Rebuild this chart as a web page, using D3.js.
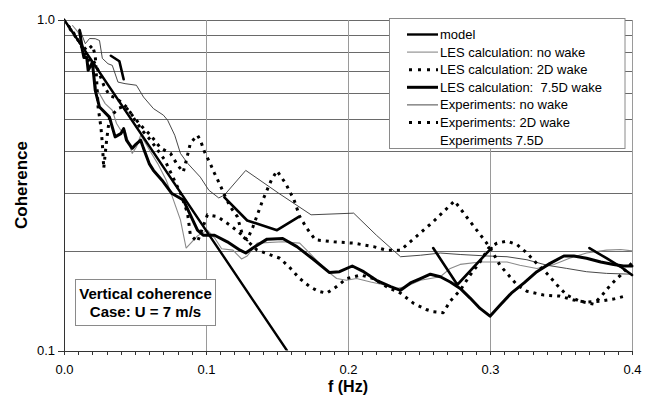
<!DOCTYPE html>
<html>
<head>
<meta charset="utf-8">
<script src="https://cdn.jsdelivr.net/npm/d3@7"></script>
<style>
  html, body { margin: 0; padding: 0; background: #fff; }
  svg { display: block; font-family: "Liberation Sans", Arial, sans-serif; }
</style>
</head>
<body>
<svg id="chart" width="658" height="399"></svg>
<script>
// ---- data: frequency f (Hz) and coherence per series ----
const modelF = [0, 0.157];
const modelC = [1.0, 0.1];

const lesNoWakeF = [0.006,0.010,0.015,0.020,0.022,0.023,0.029,0.034,0.037,0.040,0.043,0.045,0.048,0.051,0.054,0.057,0.061,0.066,0.072,0.075,0.082,0.086,0.094,0.101,0.106,0.111,0.119,0.125,0.129,0.136,0.154,0.166,0.173,0.180,0.186,0.192,0.199,0.206,0.216,0.225,0.234,0.241,0.251,0.265,0.272,0.279,0.293,0.300,0.312,0.321,0.333,0.345,0.356,0.368,0.382,0.392,0.400];
const lesNoWakeC = [0.959,0.914,0.806,0.727,0.655,0.618,0.557,0.532,0.485,0.463,0.463,0.432,0.394,0.412,0.447,0.426,0.398,0.367,0.327,0.302,0.248,0.204,0.222,0.231,0.219,0.203,0.201,0.189,0.193,0.211,0.213,0.211,0.197,0.183,0.173,0.165,0.163,0.165,0.161,0.158,0.154,0.156,0.163,0.167,0.177,0.182,0.185,0.185,0.185,0.181,0.177,0.182,0.190,0.197,0.201,0.202,0.200];

const les2DF = [0.004,0.010,0.016,0.020,0.022,0.023,0.024,0.026,0.027,0.028,0.030,0.032,0.038,0.043,0.048,0.054,0.061,0.068,0.075,0.080,0.084,0.087,0.089,0.094,0.096,0.099,0.103,0.106,0.110,0.113,0.117,0.122,0.126,0.136,0.152,0.159,0.166,0.173,0.179,0.185,0.192,0.199,0.209,0.218,0.227,0.237,0.246,0.255,0.260,0.267,0.272,0.279,0.286,0.293,0.299,0.305,0.312,0.319,0.326,0.333,0.340,0.347,0.354,0.363,0.373,0.379,0.385,0.392,0.400];
const les2DC = [0.940,0.864,0.806,0.835,0.779,0.655,0.544,0.473,0.422,0.355,0.432,0.503,0.539,0.547,0.514,0.479,0.447,0.409,0.394,0.363,0.346,0.389,0.423,0.447,0.432,0.398,0.367,0.343,0.316,0.295,0.272,0.254,0.221,0.201,0.190,0.178,0.165,0.156,0.151,0.149,0.156,0.165,0.169,0.165,0.156,0.149,0.139,0.133,0.131,0.130,0.141,0.152,0.169,0.185,0.204,0.211,0.214,0.209,0.197,0.183,0.171,0.158,0.147,0.141,0.138,0.147,0.158,0.169,0.184];

const les75F = [0.011,0.013,0.014,0.016,0.017,0.020,0.022,0.025,0.032,0.034,0.036,0.040,0.042,0.044,0.048,0.050,0.054,0.056,0.060,0.063,0.069,0.076,0.084,0.094,0.098,0.106,0.115,0.124,0.128,0.133,0.143,0.154,0.164,0.176,0.187,0.194,0.203,0.211,0.220,0.230,0.237,0.244,0.251,0.258,0.265,0.272,0.279,0.286,0.293,0.300,0.307,0.315,0.324,0.333,0.342,0.352,0.359,0.368,0.378,0.387,0.394,0.400];
const les75C = [0.927,0.806,0.768,0.768,0.702,0.742,0.611,0.544,0.507,0.473,0.442,0.452,0.468,0.432,0.408,0.417,0.432,0.408,0.367,0.350,0.327,0.298,0.285,0.231,0.223,0.223,0.213,0.201,0.197,0.204,0.217,0.218,0.206,0.188,0.172,0.173,0.180,0.173,0.163,0.156,0.152,0.160,0.165,0.170,0.167,0.161,0.154,0.144,0.134,0.127,0.137,0.149,0.160,0.173,0.183,0.193,0.193,0.190,0.185,0.182,0.180,0.180];

const expNoWakeF = [0.011,0.015,0.018,0.022,0.025,0.027,0.031,0.034,0.038,0.043,0.051,0.056,0.063,0.070,0.073,0.078,0.082,0.087,0.096,0.102,0.109,0.113,0.128,0.151,0.174,0.204,0.220,0.237,0.251,0.265,0.279,0.298,0.312,0.326,0.340,0.354,0.368,0.382,0.400];
const expNoWakeC = [0.937,0.845,0.876,0.875,0.864,0.763,0.735,0.727,0.647,0.640,0.633,0.583,0.538,0.514,0.496,0.447,0.394,0.368,0.334,0.305,0.289,0.295,0.350,0.299,0.257,0.260,0.223,0.192,0.194,0.197,0.195,0.193,0.192,0.188,0.181,0.177,0.173,0.171,0.170];

const exp2DF = [0.003,0.008,0.013,0.017,0.020,0.024,0.028,0.032,0.037,0.041,0.045,0.050,0.055,0.061,0.066,0.071,0.076,0.082,0.087,0.089,0.094,0.101,0.108,0.117,0.124,0.129,0.133,0.140,0.146,0.150,0.156,0.162,0.166,0.171,0.177,0.190,0.204,0.218,0.227,0.237,0.248,0.260,0.275,0.288,0.297,0.301,0.307,0.313,0.319,0.326,0.338,0.349,0.359,0.368,0.378,0.387,0.395];
const exp2DC = [0.959,0.895,0.818,0.752,0.763,0.702,0.633,0.590,0.578,0.558,0.539,0.496,0.463,0.432,0.403,0.376,0.339,0.299,0.260,0.223,0.213,0.257,0.254,0.239,0.226,0.216,0.236,0.285,0.327,0.349,0.320,0.285,0.254,0.234,0.216,0.213,0.211,0.206,0.201,0.201,0.221,0.245,0.283,0.239,0.213,0.201,0.181,0.169,0.158,0.151,0.147,0.146,0.142,0.140,0.141,0.143,0.146];

// sparse experimental 7.5D points; null marks a gap in the record
const exp75F = [0.033,0.039,0.042,null,0.113,0.129,0.150,0.165,null,0.260,0.277,0.301,null,0.370,0.382,0.392,0.400];
const exp75C = [0.777,0.748,0.660,null,0.290,0.247,0.231,0.253,null,0.204,0.158,0.204,null,0.204,0.190,0.179,0.169];

// axis ticks and labels
const xMajorTicks = [0, 0.1, 0.2, 0.3, 0.4];
const xTickLabels = ["0.0", "0.1", "0.2", "0.3", "0.4"];
const yTickValues = [0.1, 1.0];
const yTickLabels = ["0.1", "1.0"];
const yGridValues = [0.2, 0.3, 0.4, 0.5, 0.6, 0.7, 0.8, 0.9, 1.0];
const xGridValues = [0.1, 0.2, 0.3, 0.4];

const legendLabels = [
  "model",
  "LES calculation: no wake",
  "LES calculation: 2D wake",
  "LES calculation:  7.5D wake",
  "Experiments: no wake",
  "Experiments: 2D wake",
  "Experiments 7.5D"
];

// ---- drawing ----
const svg = d3.select("#chart");
const x = d3.scaleLinear().domain([0, 0.4]).range([64, 632]);
const y = d3.scaleLog().domain([0.1, 1]).range([350.5, 19.5]);

const styles = {
  model:     { stroke: "#000", width: 2.4, dash: null },
  lesNoWake: { stroke: "#8a8a8a", width: 1.1, dash: null },
  les2D:     { stroke: "#000", width: 3, dash: "3,5" },
  les75:     { stroke: "#000", width: 3, dash: null },
  expNoWake: { stroke: "#333", width: 0.9, dash: null },
  exp2D:     { stroke: "#000", width: 3, dash: "3,5" },
  exp75:     { stroke: "#000", width: 2.6, dash: null }
};

function zip(fs, cs) { return fs.map((f, i) => ({ f: f, c: cs[i] })); }

const series = [
  { key: "lesNoWake", pts: zip(lesNoWakeF, lesNoWakeC) },
  { key: "expNoWake", pts: zip(expNoWakeF, expNoWakeC) },
  { key: "exp2D",     pts: zip(exp2DF, exp2DC) },
  { key: "les2D",     pts: zip(les2DF, les2DC) },
  { key: "exp75",     pts: zip(exp75F, exp75C) },
  { key: "les75",     pts: zip(les75F, les75C) },
  { key: "model",     pts: zip(modelF, modelC) }
];

// gridlines
const grid = svg.append("g").attr("shape-rendering", "crispEdges");
grid.selectAll("line.h").data(yGridValues).join("line")
  .attr("class", "h")
  .attr("x1", x(0)).attr("x2", x(0.4))
  .attr("y1", d => Math.round(y(d)) + 0.5).attr("y2", d => Math.round(y(d)) + 0.5)
  .attr("stroke", "#6a6a6a").attr("stroke-width", 1);
grid.selectAll("line.v").data(xGridValues).join("line")
  .attr("class", "v")
  .attr("x1", d => Math.round(x(d)) + 0.5).attr("x2", d => Math.round(x(d)) + 0.5)
  .attr("y1", y(1)).attr("y2", y(0.1))
  .attr("stroke", "#9a9a9a").attr("stroke-width", 1);

// clip region for the data lines
svg.append("clipPath").attr("id", "plotClip")
  .append("rect").attr("x", x(0)).attr("y", y(1) - 2)
  .attr("width", x(0.4) - x(0) + 2).attr("height", y(0.1) - y(1) + 2);

const line = d3.line()
  .defined(d => d.f !== null && d.c !== null)
  .x(d => x(d.f)).y(d => y(d.c));

const plot = svg.append("g").attr("clip-path", "url(#plotClip)");
series.forEach(s => {
  const st = styles[s.key];
  plot.append("path")
    .datum(s.pts)
    .attr("d", line)
    .attr("fill", "none")
    .attr("stroke", st.stroke)
    .attr("stroke-width", st.width)
    .attr("stroke-dasharray", st.dash)
    .attr("stroke-linejoin", "round")
    .attr("stroke-linecap", st.dash ? "butt" : "round");
});

// x axis with minor ticks every 0.01
const xMinorTicks = d3.range(0, 41).map(i => i / 100);
const xAxis = d3.axisBottom(x)
  .tickValues(xMinorTicks)
  .tickSize(4)
  .tickPadding(10)
  .tickFormat(d => {
    const k = xMajorTicks.findIndex(m => Math.abs(m - d) < 1e-9);
    return k >= 0 ? xTickLabels[k] : "";
  });
const gx = svg.append("g").attr("transform", `translate(0,${y(0.1)})`).call(xAxis);
gx.select(".domain").attr("stroke", "#333").attr("shape-rendering", "crispEdges");
gx.selectAll(".tick line").attr("stroke", "#333").attr("shape-rendering", "crispEdges");
gx.selectAll(".tick text").attr("font-size", 13).attr("fill", "#000")
  .attr("font-family", "'Liberation Sans', Arial, sans-serif");

// y axis
const yAxis = d3.axisLeft(y)
  .tickValues(yTickValues)
  .tickSize(6)
  .tickPadding(3)
  .tickFormat((d, i) => yTickLabels[i]);
const gy = svg.append("g").attr("transform", `translate(${x(0)},0)`).call(yAxis);
gy.select(".domain").attr("stroke", "#333").attr("shape-rendering", "crispEdges");
gy.selectAll(".tick line").attr("stroke", "#333").attr("shape-rendering", "crispEdges");
gy.selectAll(".tick text").attr("font-size", 13).attr("fill", "#000")
  .attr("font-family", "'Liberation Sans', Arial, sans-serif");

// axis titles
svg.append("text")
  .attr("transform", "translate(27,185) rotate(-90)")
  .attr("text-anchor", "middle")
  .attr("font-size", 17).attr("font-weight", "bold")
  .text("Coherence");
svg.append("text")
  .attr("x", 348).attr("y", 392)
  .attr("text-anchor", "middle")
  .attr("font-size", 16).attr("font-weight", "bold")
  .text("f (Hz)");

// legend
const legendKeys = ["model", "lesNoWake", "les2D", "les75", "expNoWake", "exp2D", null];
const lg = svg.append("g");
lg.append("rect")
  .attr("x", 389.5).attr("y", 18.5).attr("width", 235.5).attr("height", 130)
  .attr("fill", "#fff").attr("stroke", "#8a8a8a").attr("stroke-width", 1);
legendLabels.forEach((lab, i) => {
  const yy = 34.5 + i * 17.6;
  const key = legendKeys[i];
  if (key) {
    const st = styles[key];
    lg.append("line")
      .attr("x1", 407).attr("x2", 438).attr("y1", yy).attr("y2", yy)
      .attr("stroke", st.stroke).attr("stroke-width", st.width)
      .attr("stroke-dasharray", st.dash ? "3,6" : null)
      .attr("stroke-dashoffset", st.dash ? -2 : null);
  }
  lg.append("text")
    .attr("x", 440).attr("y", yy + 4.5)
    .attr("font-size", 13)
    .style("white-space", "pre")
    .text(lab);
});

// annotation box
const ab = svg.append("g");
ab.append("rect")
  .attr("x", 75.5).attr("y", 279.5).attr("width", 140).attr("height", 46)
  .attr("fill", "#fff").attr("stroke", "#8a8a8a").attr("stroke-width", 1);
ab.append("text").attr("x", 145.5).attr("y", 298.5)
  .attr("text-anchor", "middle").attr("font-size", 15).attr("font-weight", "bold")
  .text("Vertical coherence");
ab.append("text").attr("x", 145.5).attr("y", 317)
  .attr("text-anchor", "middle").attr("font-size", 15).attr("font-weight", "bold")
  .text("Case: U = 7 m/s");
</script>
</body>
</html>
